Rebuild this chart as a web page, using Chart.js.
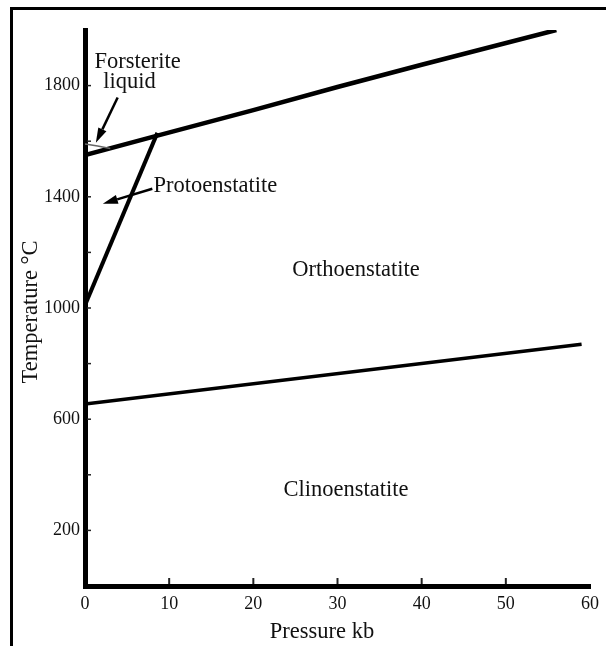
<!DOCTYPE html>
<html>
<head>
<meta charset="utf-8">
<title>Enstatite phase diagram</title>
<script src="https://cdn.jsdelivr.net/npm/chart.js@4.4.1/dist/chart.umd.min.js"></script>
<style>
  html, body { margin: 0; padding: 0; background: #fff; overflow: hidden; }
  #wrap { position: relative; width: 606px; height: 646px; }
  #frame {
    position: absolute; left: 10px; top: 7px; width: 800px; height: 800px;
    border-top: 3px solid #000; border-left: 3px solid #000;
  }
  #chart { position: absolute; left: 0; top: 0; }
</style>
</head>
<body>
<div id="wrap">
  <div id="frame"></div>
  <canvas id="chart" width="606" height="646"></canvas>
</div>
<script>
// Phase boundaries of MgSiO3 (pressure in kb, temperature in °C)
const meltP = [0, 8.6, 20, 30, 40, 56];
const meltT = [1550, 1620, 1712, 1795, 1875, 2000];

const protoP = [0, 8.6];
const protoT = [1010, 1630];

const clinoP = [0, 59];
const clinoT = [655, 870];

const liquidP = [0, 1.5, 3];
const liquidT = [1590, 1583, 1574];

// Axis tick labels
const pressureTicks = [0, 10, 20, 30, 40, 50, 60];
const temperatureLabels = [200, 600, 1000, 1400, 1800];

// Field names and pointers, placed in data coordinates
const fieldLabels = [
  { text: 'Forsterite', p: 6.24, t: 1886 },
  { text: 'liquid', p: 5.3, t: 1814 },
  { text: 'Protoenstatite', p: 15.5, t: 1440 },
  { text: 'Orthoenstatite', p: 32.2, t: 1137 },
  { text: 'Clinoenstatite', p: 31.0, t: 344 }
];
const pointers = [
  { from: [3.88, 1757], to: [1.29, 1594] },
  { from: [8.0, 1429], to: [2.12, 1375] }
];

const xTitle = 'Pressure kb';
const yTitle = 'Temperature °C';

const SERIF = '"Liberation Serif", "Times New Roman", serif';

function pts(xs, ys) { return xs.map((x, i) => ({ x: x, y: ys[i] })); }

const annotate = {
  id: 'annotate',
  afterDraw(chart) {
    const ctx = chart.ctx;
    const xs = chart.scales.x, ys = chart.scales.y;
    const area = chart.chartArea;
    ctx.save();
    // inward tick marks
    ctx.strokeStyle = '#222';
    ctx.lineWidth = 1.5;
    for (let v = 200; v < 2000; v += 200) {
      const py = ys.getPixelForValue(v);
      ctx.beginPath();
      ctx.moveTo(area.left + 2, py);
      ctx.lineTo(area.left + 6, py);
      ctx.stroke();
    }
    ctx.lineWidth = 2;
    pressureTicks.slice(1, -1).forEach(v => {
      const px = xs.getPixelForValue(v);
      ctx.beginPath();
      ctx.moveTo(px, area.bottom - 2);
      ctx.lineTo(px, area.bottom - 8);
      ctx.stroke();
    });
    // axis titles
    ctx.fillStyle = '#111';
    ctx.font = '22.5px ' + SERIF;
    ctx.textAlign = 'center';
    ctx.textBaseline = 'middle';
    ctx.fillText(xTitle, area.left + 237, area.bottom + 46);
    ctx.save();
    ctx.translate(area.left - 54, area.top + 282);
    ctx.rotate(-Math.PI / 2);
    ctx.fillText(yTitle, 0, 0);
    ctx.restore();
    // field names
    fieldLabels.forEach(l => {
      ctx.fillText(l.text, xs.getPixelForValue(l.p), ys.getPixelForValue(l.t));
    });
    // pointers
    ctx.strokeStyle = '#000';
    ctx.fillStyle = '#000';
    ctx.lineWidth = 2.5;
    pointers.forEach(a => {
      const x1 = xs.getPixelForValue(a.from[0]), y1 = ys.getPixelForValue(a.from[1]);
      const x2 = xs.getPixelForValue(a.to[0]), y2 = ys.getPixelForValue(a.to[1]);
      const ang = Math.atan2(y2 - y1, x2 - x1);
      const head = 15, half = 4.5;
      const bx = x2 - head * Math.cos(ang), by = y2 - head * Math.sin(ang);
      ctx.beginPath();
      ctx.moveTo(x1, y1);
      ctx.lineTo(bx, by);
      ctx.stroke();
      ctx.beginPath();
      ctx.moveTo(x2, y2);
      ctx.lineTo(bx + half * Math.sin(ang), by - half * Math.cos(ang));
      ctx.lineTo(bx - half * Math.sin(ang), by + half * Math.cos(ang));
      ctx.closePath();
      ctx.fill();
    });
    ctx.restore();
  }
};

new Chart(document.getElementById('chart'), {
  type: 'scatter',
  data: {
    datasets: [
      { data: pts(liquidP, liquidT), borderColor: '#666', borderWidth: 1.5 },
      { data: pts(meltP, meltT), borderColor: '#000', borderWidth: 4.5 },
      { data: pts(protoP, protoT), borderColor: '#000', borderWidth: 4 },
      { data: pts(clinoP, clinoT), borderColor: '#000', borderWidth: 3.5 }
    ]
  },
  options: {
    responsive: false,
    devicePixelRatio: 1,
    animation: false,
    showLine: true,
    elements: { point: { radius: 0, hoverRadius: 0 }, line: { tension: 0, borderCapStyle: 'butt' } },
    layout: { padding: { left: 0, right: 11, top: 30, bottom: 0 } },
    plugins: { legend: { display: false }, tooltip: { enabled: false } },
    scales: {
      x: {
        type: 'linear', min: 0, max: 60,
        afterBuildTicks: s => { s.ticks = pressureTicks.map(v => ({ value: v })); },
        afterFit: s => { s.height = 60; },
        ticks: { color: '#111', font: { family: SERIF, size: 18 }, padding: 7, maxRotation: 0,
                 callback: v => String(v) },
        grid: { drawOnChartArea: false, drawTicks: false },
        border: { display: true, width: 5, color: '#000' }
      },
      y: {
        type: 'linear', min: 0, max: 2000,
        afterBuildTicks: s => { s.ticks = temperatureLabels.map(v => ({ value: v })); },
        afterFit: s => { s.width = 85; },
        ticks: { color: '#111', font: { family: SERIF, size: 18 }, padding: 5,
                 callback: v => String(v) },
        grid: { drawOnChartArea: false, drawTicks: false },
        border: { display: true, width: 5, color: '#000' }
      }
    }
  },
  plugins: [annotate]
});
</script>
</body>
</html>
